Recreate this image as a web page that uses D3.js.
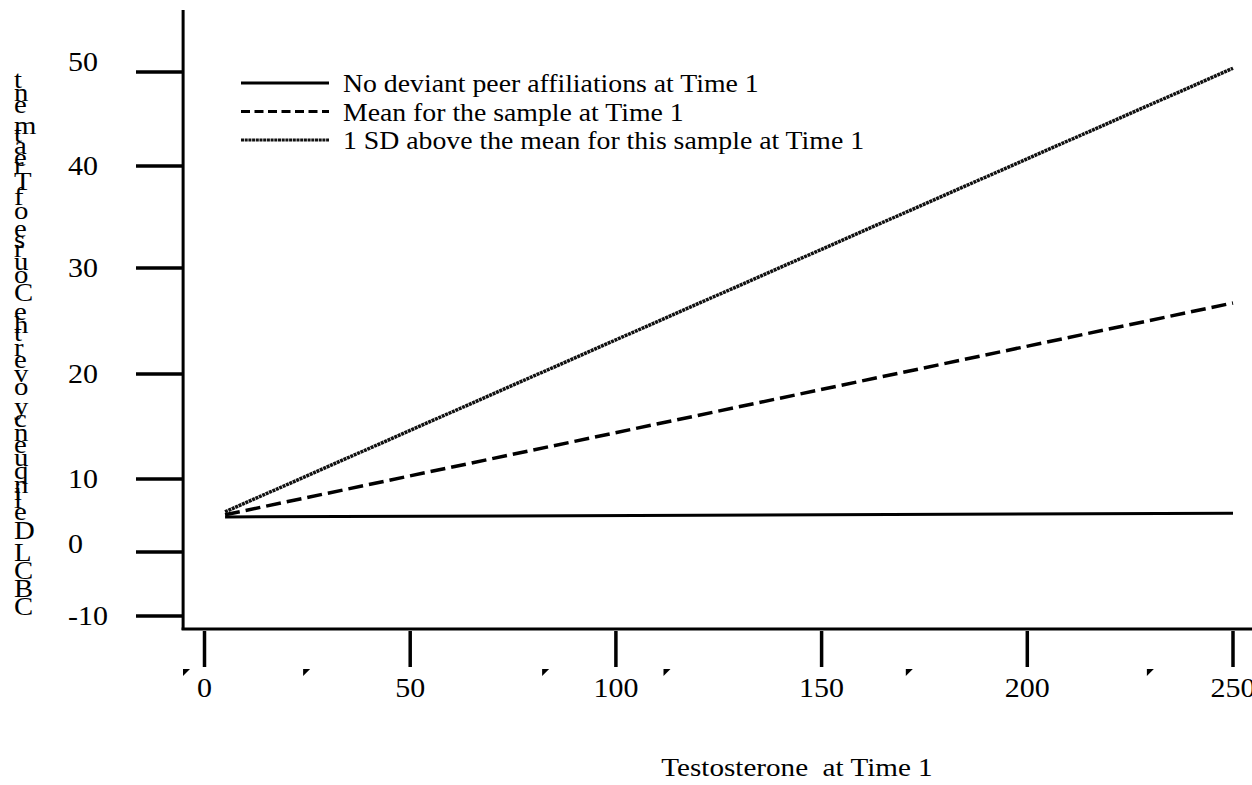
<!DOCTYPE html>
<html>
<head>
<meta charset="utf-8">
<script src="https://cdn.jsdelivr.net/npm/d3@7"></script>
<style>
  body { margin: 0; background: #fff; }
  text { font-family: "Liberation Serif", "Times New Roman", serif; fill: #000; white-space: pre; }
</style>
</head>
<body>
<div id="chart"></div>
<script>
// values
const yTicks = [-10, 0, 10, 20, 30, 40, 50];
const xTicks = [0, 50, 100, 150, 200, 250];
const testosterone = [5, 250];
const noDeviant = [4.8, 5.3];
const meanSample = [5.1, 26.7];
const sdAbove = [5.5, 50.4];
const seriesNames = [
    "No deviant peer affiliations at Time 1",
    "Mean for the sample at Time 1",
    "1 SD above the mean for this sample at Time 1"
];
// little scan marks under the x axis
const scanMarks = [-4.5, 24.7, 82.8, 112.3, 171.2, 229.8];
const xTitle = "Testosterone  at Time 1";
const yTitle = "CBCL Delinquency over the Course of Treatment";

const width = 1252;
const height = 785;
const stretchK = 1.11;

const svg = d3.select("#chart")
      .append("svg")
      .attr("width", width)
      .attr("height", height);

const x = d3.scaleLinear().domain([0, 250]).range([204.5, 1233]);
// the scan is uneven, so the y scale is piecewise
const y = d3.scaleLinear().domain(yTicks).range([616, 552, 479, 374, 268, 166, 72]);

function stretch(sel, k) {
    sel.each(function() {
	const w = this.getComputedTextLength();
	d3.select(this).attr("textLength", w * k).attr("lengthAdjust", "spacingAndGlyphs");
    });
}

// axis lines
svg.append("line")
    .attr("x1", x(-5.2)).attr("x2", x(-5.2))
    .attr("y1", y(56.6)).attr("y2", 630)
    .attr("stroke", "#000").attr("stroke-width", 3);
svg.append("line")
    .attr("x1", x(-5.2) - 1.5).attr("x2", width)
    .attr("y1", 629).attr("y2", 629)
    .attr("stroke", "#000").attr("stroke-width", 3);

// y ticks
svg.append("g")
    .selectAll("line")
    .data(yTicks)
    .enter().append("line")
    .attr("x1", 136).attr("x2", x(-5.2))
    .attr("y1", d => y(d)).attr("y2", d => y(d))
    .attr("stroke", "#000").attr("stroke-width", 3.5);

// the scan puts the "50" and "0" labels a little above their ticks
const yLab = svg.append("g")
    .selectAll("text")
    .data(yTicks)
    .enter().append("text")
    .attr("x", 68)
    .attr("y", d => y(d) + (d === 50 ? -1 : d === 0 ? 1 : 9))
    .attr("font-size", 27)
    .text(d => d);
stretch(yLab, stretchK);

// x ticks
svg.append("g")
    .selectAll("line")
    .data(xTicks)
    .enter().append("line")
    .attr("x1", d => x(d)).attr("x2", d => x(d))
    .attr("y1", 631).attr("y2", 667)
    .attr("stroke", "#000").attr("stroke-width", 3.5);

const xLab = svg.append("g")
    .selectAll("text")
    .data(xTicks)
    .enter().append("text")
    .attr("x", d => x(d))
    .attr("y", 697)
    .attr("text-anchor", "middle")
    .attr("font-size", 27)
    .text(d => d);
stretch(xLab, stretchK);

svg.append("g")
    .selectAll("path")
    .data(scanMarks)
    .enter().append("path")
    .attr("d", d => `M${x(d) - 3},669 L${x(d) + 4},669 L${x(d) - 3},676 Z`)
    .attr("fill", "#000");

// x title
const xt = svg.append("text")
    .attr("x", 797)
    .attr("y", 776)
    .attr("text-anchor", "middle")
    .attr("font-size", 26)
    .text(xTitle);
stretch(xt, 1.12);

// y title: upright letters stacked from bottom to top
const yFont = 25;
const probe = svg.append("text")
      .attr("font-size", yFont)
      .attr("x", -1000).attr("y", -1000)
      .text(yTitle);
const chars = Array.from(yTitle);
const cum = chars.map((c, i) => i === 0 ? 0 : probe.node().getSubStringLength(0, i));
probe.remove();
const ySpan = d3.scaleLinear().domain([0, cum[cum.length - 1]]).range([615, 88]);
const yt = svg.append("g")
    .selectAll("text")
    .data(chars.map((c, i) => ({c: c, pos: cum[i]})).filter(d => d.c !== " "))
    .enter().append("text")
    .attr("x", 14)
    .attr("y", d => ySpan(d.pos))
    .attr("font-size", yFont)
    .text(d => d.c);
stretch(yt, 1.15);

// series
const series = [
    {name: seriesNames[0], vals: noDeviant, dash: null, lDash: null, w: 3, color: "#000"},
    {name: seriesNames[1], vals: meanSample, dash: "15,6", lDash: "9,4.5", w: 3.5, color: "#000"},
    {name: seriesNames[2], vals: sdAbove, dash: "3,0.7", lDash: "3,0.7", w: 3.5, color: "#111"}
];

const line = d3.line()
      .x(d => x(d[0]))
      .y(d => y(d[1]));

svg.append("g")
    .selectAll("path")
    .data(series)
    .enter().append("path")
    .attr("d", d => line(testosterone.map((t, i) => [t, d.vals[i]])))
    .attr("fill", "none")
    .attr("stroke", d => d.color)
    .attr("stroke-width", d => d.w)
    .attr("stroke-dasharray", d => d.dash);

// legend
const leg = svg.append("g")
      .selectAll("g")
      .data(series)
      .enter().append("g")
      .attr("transform", (d, i) => `translate(241,${83 + i * 28.5})`);

leg.append("line")
    .attr("x1", 0).attr("x2", 88)
    .attr("y1", 0).attr("y2", 0)
    .attr("stroke", d => d.color)
    .attr("stroke-width", 3)
    .attr("stroke-dasharray", d => d.lDash);

const legText = leg.append("text")
      .attr("x", 102)
      .attr("y", 9)
      .attr("font-size", 25)
      .text(d => d.name);
stretch(legText, stretchK);
</script>
</body>
</html>
